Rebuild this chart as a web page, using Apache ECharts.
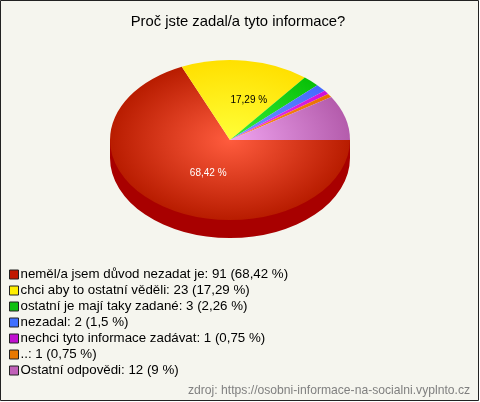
<!DOCTYPE html>
<html><head><meta charset="utf-8">
<style>html,body{margin:0;padding:0;background:#fff}#c{width:480px;height:402px}</style>
<script src="https://cdn.jsdelivr.net/npm/echarts@6/dist/echarts.min.js"></script>
</head><body><div id="c"></div>
<script>
const categories=["neměl/a jsem důvod nezadat je","chci aby to ostatní věděli","ostatní je mají taky zadané","nezadal","nechci tyto informace zadávat","..","Ostatní odpovědi"];
const values=[91,23,3,2,1,1,12];
const percentLabels=["68,42","17,29","2,26","1,5","0,75","0,75","9"];
const legendColors=["#c01800","#ffee00","#10c010","#4070ff","#c010d0","#e87800","#c060b8"];
const innerColors=["#ff5c3e","#ffff38","#38f038","#6c9cff","#f040f0","#ff9020","#f0a4f0"];
const outerColors=["#b81c00","#ffe000","#08c008","#4468ff","#d010d8","#e87000","#b45cac"];
const shownLabels=[true,true,false,false,false,false,false];
const labelColors=["#ffffff","#000000"];
const sideColor="#a80000";
const total=values.reduce((a,b)=>a+b,0);
const cx=230,cy=140,rx=120,ry=80,depth=18;
const chart=echarts.init(document.getElementById('c'),null,{renderer:'canvas'});
const series=categories.map((c,i)=>{
  const before=values.slice(0,i).reduce((a,b)=>a+b,0);
  return {
    type:'custom',coordinateSystem:'none',silent:true,
    name:`${c}: ${values[i]} (${percentLabels[i]} %)`,
    itemStyle:{color:legendColors[i]},
    data:[[values[i]]],
    renderItem(params,api){
      const a0=before/total*Math.PI*2,a1=(before+api.value(0))/total*Math.PI*2;
      const mid=(a0+a1)/2;
      const ch=[];
      const sector=(y,fill)=>({type:'sector',x:cx,y:y,scaleY:ry/rx,
        shape:{cx:0,cy:0,r0:0,r:rx,startAngle:a0,endAngle:a1,clockwise:true},
        style:{fill:fill}});
      if(i===0){
        ch.push(sector(cy+depth,sideColor));
        ch.push({type:'rect',shape:{x:cx-rx,y:cy,width:rx*2,height:depth},style:{fill:sideColor}});
      }
      ch.push(sector(cy,{type:'radial',x:0,y:0,r:rx,global:true,
        colorStops:[{offset:0,color:innerColors[i]},{offset:1,color:outerColors[i]}]}));
      if(shownLabels[i]){
        ch.push({type:'text',z2:10,
          x:cx+Math.cos(mid)*rx*0.5+11,y:cy+Math.sin(mid)*ry*0.5-0.5,
          style:{text:percentLabels[i]+' %',fill:labelColors[i],font:'10px "Liberation Sans"',align:'center',verticalAlign:'middle'}});
      }
      return {type:'group',children:ch};
    }
  };
});
chart.setOption({
  animation:false,
  title:[
    {text:'Proč jste zadal/a tyto informace?',left:233,top:9,textAlign:'center',
     textStyle:{fontFamily:'Liberation Sans',fontSize:14.8,fontWeight:'normal',color:'#000'}},
    {text:'zdroj: https://osobni-informace-na-socialni.vyplnto.cz',left:183,top:380,
     textStyle:{fontFamily:'Liberation Sans',fontSize:12.15,fontWeight:'normal',color:'#808080'}}
  ],
  legend:{orient:'vertical',left:4,top:263,itemWidth:9,itemHeight:9,itemGap:3,icon:'rect',
    selectedMode:false,
    textStyle:{fontFamily:'Liberation Sans',fontSize:13.3,color:'#000',padding:[0,0,0,-3],lineHeight:13},
    itemStyle:{borderColor:'#222',borderWidth:1},
    data:series.map(s=>s.name)},
  graphic:[{type:'rect',z:-1,silent:true,shape:{x:0.5,y:0.5,width:478,height:400},
    style:{fill:'#f5f5ee',stroke:'#222',lineWidth:1}}],
  series
});
</script></body></html>
